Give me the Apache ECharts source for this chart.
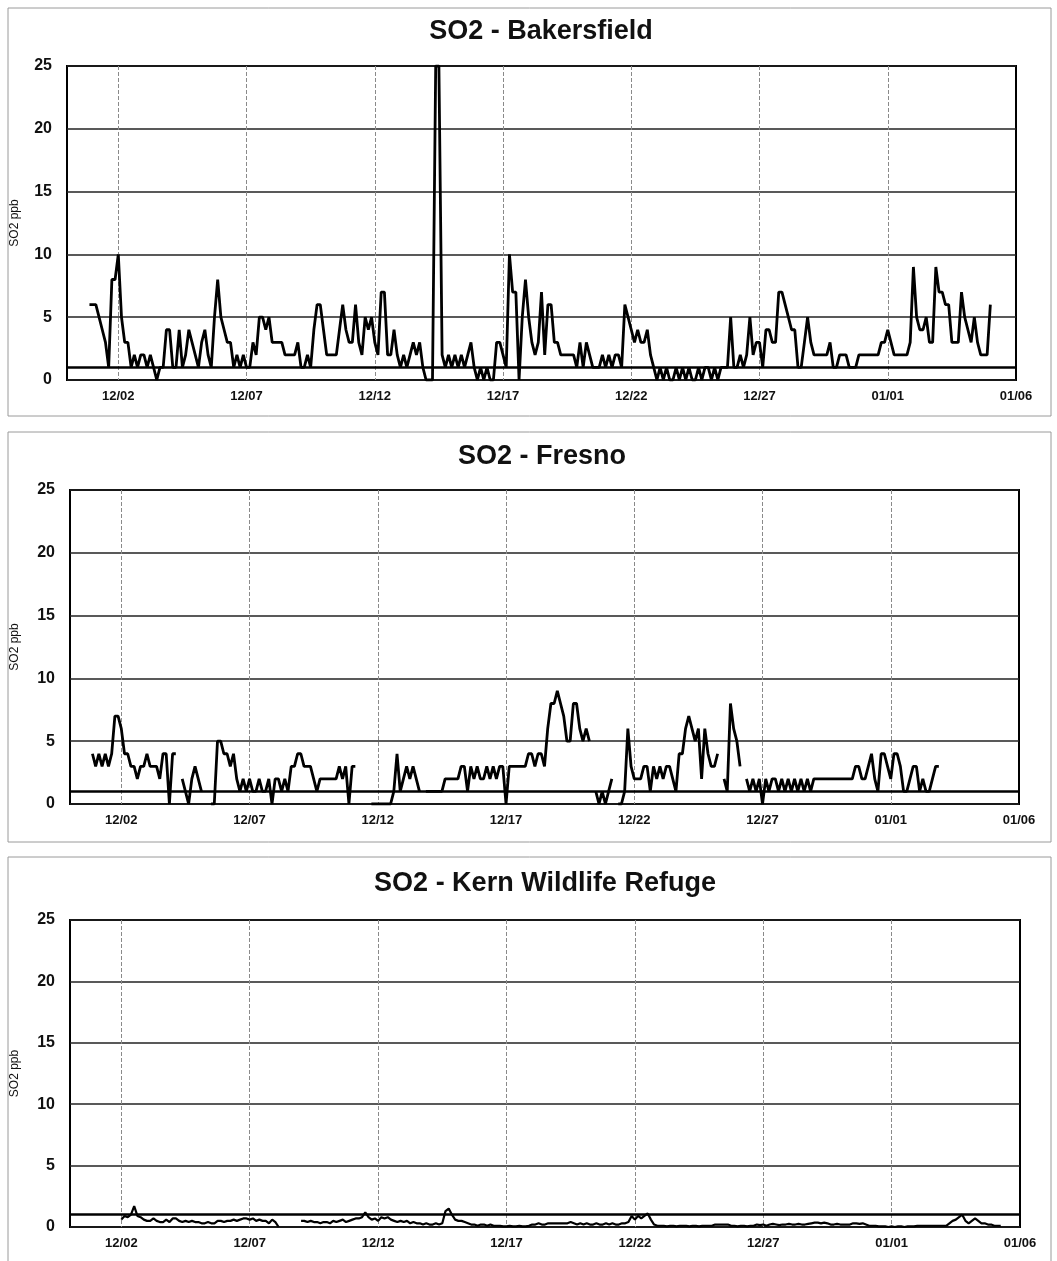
<!DOCTYPE html>
<html>
<head>
<meta charset="utf-8">
<script src="https://cdn.jsdelivr.net/npm/echarts@6/dist/echarts.min.js"></script>
<style>
  html, body { margin: 0; padding: 0; background: #fff; }
  #chart { width: 1057px; height: 1261px; }
</style>
</head>
<body>
<div id="chart"></div>
<script>
// Hourly SO2 readings summarised every 3 hours, from 11/30 00:00 to 01/06 00:00.
const stations = ['SO2 - Bakersfield', 'SO2 - Fresno', 'SO2 - Kern Wildlife Refuge'];
const tickLabels = ['12/02', '12/07', '12/12', '12/17', '12/22', '12/27', '01/01', '01/06'];
const yMin = 0, yMax = 25, yStep = 5;
const referenceLevel = 1; // ppb

const N = null;
const bakersfield = [
  N,N,N,N,N,N,N,6,
  6,6,5,4,3,1,8,8,
  10,5,3,3,1,2,1,2,
  2,1,2,1,0,1,1,4,
  4,1,1,4,1,2,4,3,
  2,1,3,4,2,1,5,8,
  5,4,3,3,1,2,1,2,
  1,1,3,2,5,5,4,5,
  3,3,3,3,2,2,2,2,
  3,1,1,2,1,4,6,6,
  4,2,2,2,2,4,6,4,
  3,3,6,3,2,5,4,5,
  3,2,7,7,2,2,4,2,
  1,2,1,2,3,2,3,1,
  0,0,0,25,25,2,1,2,
  1,2,1,2,1,2,3,1,
  0,1,0,1,0,0,3,3,
  2,1,10,7,7,0,5,8,
  5,3,2,3,7,2,6,6,
  3,3,2,2,2,2,2,1,
  3,1,3,2,1,1,1,2,
  1,2,1,2,2,1,6,5,
  4,3,4,3,3,4,2,1,
  0,1,0,1,0,0,1,0,
  1,0,1,0,0,1,0,1,
  1,0,1,0,1,1,1,5,
  1,1,2,1,2,5,2,3,
  3,1,4,4,3,3,7,7,
  6,5,4,4,1,1,3,5,
  3,2,2,2,2,2,3,1,
  1,2,2,2,1,1,1,2,
  2,2,2,2,2,2,3,3,
  4,3,2,2,2,2,2,3,
  9,5,4,4,5,3,3,9,
  7,7,6,6,3,3,3,7,
  5,4,3,5,3,2,2,2,
  6,N,N,N,N,N,N,N,
  N
];

const fresno = [
  N,N,N,N,N,N,N,4,
  3,4,3,4,3,4,7,7,
  6,4,4,3,3,2,3,3,
  4,3,3,3,2,4,4,0,
  4,4,N,2,1,0,2,3,
  2,1,N,N,0,0,5,5,
  4,4,3,4,2,1,2,1,
  2,1,1,2,1,1,2,0,
  2,2,1,2,1,3,3,4,
  4,3,3,3,2,1,2,2,
  2,2,2,2,3,2,3,0,
  3,3,N,N,N,N,0,0,
  0,0,0,0,0,1,4,1,
  2,3,2,3,2,1,N,1,
  1,1,1,1,1,2,2,2,
  2,2,3,3,1,3,2,3,
  2,2,3,2,3,2,3,3,
  0,3,3,3,3,3,3,4,
  4,3,4,4,3,6,8,8,
  9,8,7,5,5,8,8,6,
  5,6,5,N,1,0,1,0,
  1,2,N,0,0,1,6,3,
  2,2,2,3,3,1,3,2,
  3,2,3,3,2,1,4,4,
  6,7,6,5,6,2,6,4,
  3,3,4,N,2,1,8,6,
  5,3,N,2,1,2,1,2,
  0,2,1,2,2,1,2,1,
  2,1,2,1,2,1,2,1,
  2,2,2,2,2,2,2,2,
  2,2,2,2,2,3,3,2,
  2,3,4,2,1,4,4,3,
  2,4,4,3,1,1,2,3,
  3,1,2,1,1,2,3,3,
  N,N,N,N,N,N,N,N,
  N,N,N,N,N,N,N,N,
  N,N,N,N,N,N,N,N,
  N
];

const kernRefuge = [
  N,N,N,N,N,N,N,N,
  N,N,N,N,N,N,N,N,
  0.6,0.9,0.8,1.0,1.7,0.9,0.8,0.6,
  0.5,0.5,0.7,0.5,0.4,0.4,0.6,0.4,
  0.7,0.7,0.5,0.4,0.5,0.4,0.5,0.4,
  0.4,0.3,0.3,0.4,0.3,0.3,0.5,0.5,
  0.4,0.5,0.5,0.6,0.5,0.6,0.7,0.7,
  0.6,0.7,0.5,0.6,0.5,0.5,0.3,0.6,
  0.4,0,N,N,N,N,N,N,
  0.5,0.5,0.4,0.5,0.4,0.4,0.3,0.4,
  0.4,0.3,0.5,0.4,0.5,0.6,0.4,0.5,
  0.6,0.7,0.7,0.8,1.2,0.8,0.6,0.7,
  0.5,0.8,0.7,0.8,0.6,0.5,0.4,0.5,
  0.4,0.5,0.3,0.4,0.3,0.3,0.2,0.3,
  0.2,0.2,0.3,0.2,0.3,1.3,1.5,1.0,
  0.6,0.5,0.5,0.4,0.3,0.2,0.2,0.1,
  0.2,0.2,0.1,0.2,0.1,0.1,0.1,0.05,
  0.05,0.1,0.05,0.05,0.1,0.05,0.05,0.1,
  0.2,0.2,0.3,0.2,0.2,0.3,0.3,0.3,
  0.3,0.3,0.3,0.3,0.4,0.3,0.2,0.3,
  0.2,0.3,0.2,0.2,0.3,0.2,0.2,0.3,
  0.2,0.3,0.2,0.2,0.3,0.3,0.4,0.9,
  0.6,0.9,0.7,0.9,1.1,0.6,0.2,0.1,
  0.1,0.1,0.05,0.1,0.1,0.05,0.1,0.1,
  0.1,0.05,0.1,0.1,0.05,0.1,0.1,0.1,
  0.1,0.2,0.2,0.2,0.2,0.2,0.1,0.1,
  0.05,0.1,0.1,0.05,0.1,0.1,0.2,0.15,
  0.2,0.1,0.2,0.25,0.2,0.15,0.2,0.2,
  0.25,0.2,0.2,0.25,0.2,0.2,0.25,0.3,
  0.35,0.35,0.3,0.35,0.3,0.2,0.2,0.25,
  0.2,0.2,0.2,0.2,0.3,0.3,0.25,0.3,
  0.2,0.1,0.1,0.1,0.05,0.05,0.05,0,
  0.05,0,0.05,0.05,0,0.05,0.05,0.05,
  0.1,0.1,0.1,0.1,0.1,0.1,0.1,0.1,
  0.1,0.1,0.3,0.5,0.6,0.8,1.0,0.5,
  0.3,0.5,0.7,0.5,0.3,0.3,0.2,0.2,
  0.1,0.1,0.1,N,N,N,N,N,
  N
];

const seriesValues = [bakersfield, fresno, kernRefuge];

// Time categories, one every 3 hours
const stepHours = 3;
const startMs = Date.UTC(2000, 10, 30, 0);
const pad = n => String(n).padStart(2, '0');
const times = bakersfield.map((_, i) => {
  const d = new Date(startMs + i * stepHours * 3600 * 1000);
  return pad(d.getUTCMonth() + 1) + '/' + pad(d.getUTCDate()) + ' ' + pad(d.getUTCHours()) + ':00';
});
const lastIndex = times.length - 1;
const isLabelled = (idx, val) => val.slice(6) === '00:00' && tickLabels.includes(val.slice(0, 5));
// gridlines everywhere a date is labelled, except on the right-hand frame edge
const hasGridline = (idx, val) => idx !== lastIndex && isLabelled(idx, val);

const FONT = 'Liberation Sans, Arial, sans-serif';

// Panel geometry
const panels = [
  { left: 67, top: 66, width: 949, height: 314, titleTop: 13, titleX: 536, nameGap: 46, frame: [8, 8, 1043, 408] },
  { left: 70, top: 490, width: 949, height: 314, titleTop: 438, titleX: 537, nameGap: 49, frame: [8, 432, 1043, 410] },
  { left: 70, top: 920, width: 950, height: 307, titleTop: 865, titleX: 540, nameGap: 49, frame: [8, 857, 1043, 410] }
];

const option = {
  animation: false,
  backgroundColor: '#fff',
  title: panels.map((p, i) => ({
    text: stations[i],
    left: p.titleX,
    top: p.titleTop,
    textAlign: 'center',
    textStyle: { fontFamily: FONT, fontWeight: 'bold', fontSize: 27, color: '#111' }
  })),
  graphic: panels.map(p => ({
    type: 'rect',
    silent: true,
    shape: { x: p.frame[0], y: p.frame[1], width: p.frame[2], height: p.frame[3] },
    style: { fill: 'none', stroke: '#9a9a9a', lineWidth: 1 }
  })),
  grid: panels.map(p => ({
    left: p.left, top: p.top, width: p.width, height: p.height,
    show: true, borderColor: '#000', borderWidth: 2, backgroundColor: '#fff',
    containLabel: false
  })),
  xAxis: panels.map((p, i) => ({
    type: 'category',
    gridIndex: i,
    data: times,
    boundaryGap: false,
    axisLine: { show: false },
    axisTick: { show: false },
    axisLabel: {
      interval: isLabelled,
      formatter: v => v.slice(0, 5),
      fontFamily: FONT, fontWeight: 'bold', fontSize: 13, color: '#111',
      margin: 10, showMaxLabel: true
    },
    splitLine: {
      show: true,
      interval: hasGridline,
      lineStyle: { color: '#8a8a8a', width: 1, type: [4, 2] }
    }
  })),
  yAxis: panels.map((p, i) => ({
    type: 'value',
    gridIndex: i,
    min: yMin, max: yMax, interval: yStep,
    name: 'SO2 ppb',
    nameLocation: 'middle',
    nameGap: p.nameGap,
    nameTextStyle: { fontFamily: FONT, fontSize: 12, color: '#111' },
    axisLine: { show: false },
    axisTick: { show: false },
    axisLabel: { fontFamily: FONT, fontWeight: 'bold', fontSize: 16, color: '#111', margin: 15 },
    splitLine: { show: true, lineStyle: { color: '#222', width: 1.5 } }
  })),
  series: seriesValues.map((vals, i) => ({
    type: 'line',
    xAxisIndex: i,
    yAxisIndex: i,
    data: vals,
    showSymbol: false,
    connectNulls: false,
    lineStyle: { color: '#000', width: i === 2 ? 2.2 : 2.8 },
    silent: true,
    markLine: {
      silent: true,
      symbol: 'none',
      label: { show: false },
      lineStyle: { color: '#000', width: 2.6, type: 'solid' },
      data: [{ yAxis: referenceLevel }]
    }
  }))
};

const chart = echarts.init(document.getElementById('chart'), null, { renderer: 'canvas' });
chart.setOption(option);
</script>
</body>
</html>
